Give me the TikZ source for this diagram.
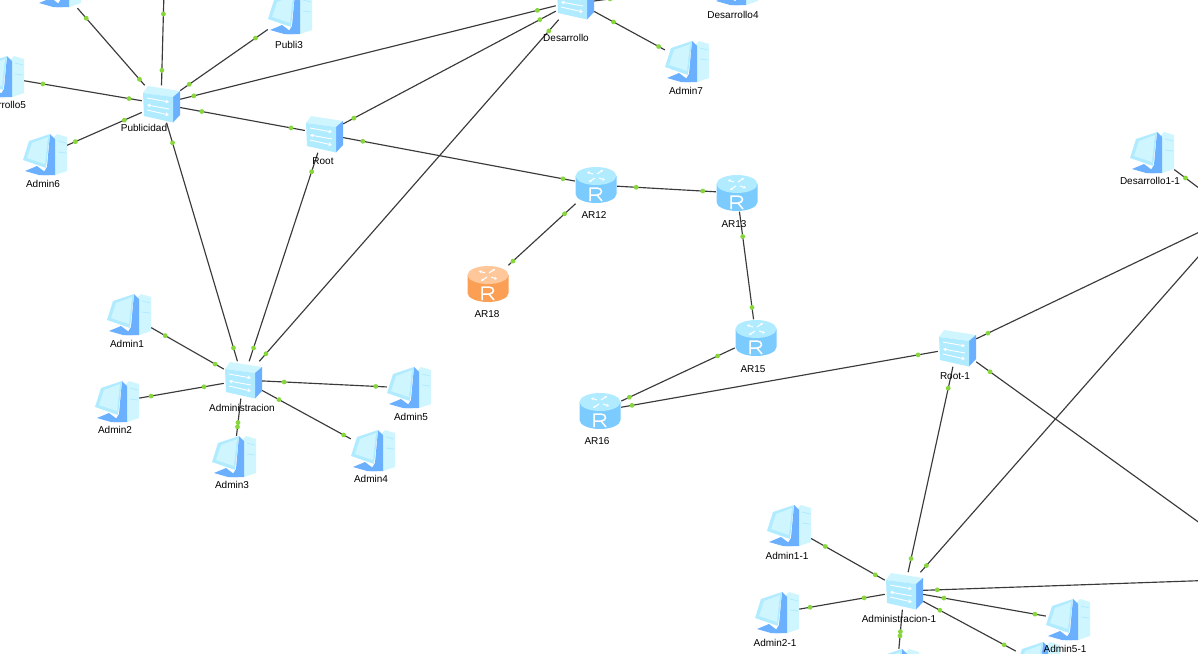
\documentclass[tikz,border=0pt]{standalone}
\usepackage{fontspec}
\usepackage{xcolor}
\usetikzlibrary{arrows.meta,decorations.markings}
\setmainfont{Liberation Sans}
\definecolor{linkgreen}{HTML}{86D63C}
\definecolor{linkgray}{HTML}{3A3A3A}
\definecolor{iconpale}{HTML}{CFF5FF}
\definecolor{iconlight}{HTML}{B0EBFF}
\definecolor{iconmid}{HTML}{7CCBFF}
\definecolor{icondeep}{HTML}{6AB0FF}
\definecolor{routerpale}{HTML}{FFC79A}
\definecolor{routermid}{HTML}{FB9F55}
\tikzset{
    pics/pc-icon/.style = {code = {
        \fill[iconpale] (8,-17) -- (12,-21) -- (22,-18) -- (22,16) -- (10,20) -- cycle;
        \draw[iconlight, line width=0.8pt] (13,-14) -- (21,-12) (13,-3) -- (21,-2);
        \fill[icondeep] (5,-21) -- (10,-16) -- (10,20) -- (-3,20) -- (2,12) -- cycle;
        \fill[icondeep] (-20,16) -- (-8,11) -- (4,20) -- (-6,20) -- cycle;
        \fill[iconlight] (5,-21) -- (-16,-14) -- (-22,5) -- (1,13) -- cycle;
        \fill[iconpale] (3,-18) -- (-13,-12) -- (-18,3) -- (0,9) -- cycle;
    }},
    pics/switch-icon/.style = {code = {
        \fill[iconpale] (-18,-11) -- (-13,-18) -- (19,-13) -- (12,-7) -- cycle;
        \fill[icondeep] (12,-7) -- (19,-13) -- (19,11) -- (12,18.5) -- cycle;
        \fill[iconlight] (-18,-11) -- (12,-7) -- (12,18.5) -- (-17,12) -- cycle;
        \draw[switch-arrow] (-14,-6) -- (8,-2);
        \draw[switch-arrow] (8,5) -- (-14,1);
        \draw[switch-arrow] (-14,6) -- (8,11);
    }},
    pics/router-icon/.style 2 args = {code = {
        \fill[#2] (-20.5,-9) -- (-20.5,9) arc[start angle=180, end angle=0, x radius=20.5, y radius=9] -- (20.5,-9) -- cycle;
        \fill[#1] (0,-9) ellipse[x radius=20.5, y radius=9];
        \draw[router-arrow] (1,-11) -- (7,-15);
        \draw[router-arrow] (-1,-7) -- (-7,-3);
        \draw[router-arrow] (-3,-11) -- (-9,-13);
        \draw[router-arrow] (3,-7) -- (9,-5);
        \draw[white, line width=1.5pt] (-6,16) -- (-6,3) -- (1,3) .. controls (7,3) and (7,10) .. (1,10) -- (-6,10) (1,10) -- (6,16);
    }},
    switch-arrow/.style = {white, line width=0.9pt, -{Stealth[length=3.5pt, width=4pt]}},
    router-arrow/.style = {white, line width=1pt, -{Stealth[length=2.5pt, width=3pt]}},
    pc-box/.style = {rectangle, inner sep=0pt, minimum width=44pt, minimum height=42pt,
        path picture = {\pic at (path picture bounding box.center) {pc-icon};}},
    switch-box/.style = {rectangle, inner sep=0pt, minimum width=38pt, minimum height=37pt,
        path picture = {\pic at (path picture bounding box.center) {switch-icon};}},
    router-box/.style 2 args = {rectangle, inner sep=0pt, minimum width=42pt, minimum height=37pt,
        path picture = {\pic at (path picture bounding box.center) {router-icon={#1}{#2}};}},
    blue-router/.style = {router-box={iconlight}{iconmid}},
    orange-router/.style = {router-box={routerpale}{routermid}},
    device-label/.style = {inner sep=0pt, font=\fontsize{10}{12}\selectfont, text=black},
    link/.style 2 args = {draw=linkgray, line width=1.15pt, postaction={decorate, decoration={markings,
        mark=at position #1pt with {\fill[linkgreen] (0,0) circle (2.4pt);},
        mark=at position -#2pt with {\fill[linkgreen] (0,0) circle (2.4pt);}}}},
}

\begin{document}
\begin{tikzpicture}[x=1pt, y=-1pt]
\clip[use as bounding box] (0,0) rectangle (1198,653);

% left site
\node[pc-box] (admin-top) at (59,-13) {};
\coordinate (publi-up) at (164,-8);
\node[pc-box] (publi3) at (290,14) {};
\node[pc-box] (desarrollo5) at (2,77) {};
\node[pc-box] (admin6) at (45,155) {};
\node[switch-box] (publicidad) at (161,104) {};
\node[switch-box] (root) at (324,134) {};
\node[switch-box] (desarrollo) at (575,1) {};
\node[pc-box] (desarrollo4) at (736,-15) {};
\node[pc-box] (admin7) at (687,62) {};
\node[switch-box] (administracion) at (243,380) {};
\node[pc-box] (admin1) at (129,315) {};
\node[pc-box] (admin2) at (117,402) {};
\node[pc-box] (admin3) at (234,457) {};
\node[pc-box] (admin4) at (373,451) {};
\node[pc-box] (admin5) at (409,388) {};

% routers
\node[blue-router] (ar12) at (596,185) {};
\node[blue-router] (ar13) at (737,193) {};
\node[blue-router] (ar15) at (756,338) {};
\node[blue-router] (ar16) at (600,411) {};
\node[orange-router] (ar18) at (488,284) {};

% right site
\node[switch-box] (root-1) at (957,348) {};
\node[pc-box] (desarrollo1-1) at (1152,153) {};
\coordinate (desarrollo-1) at (1235,215);
\coordinate (publicidad-1) at (1276,578);
\node[switch-box] (administracion-1) at (904,591) {};
\node[pc-box] (admin1-1) at (789,526) {};
\node[pc-box] (admin2-1) at (777,613) {};
\node[pc-box] (admin3-1) at (897,670) {};
\node[pc-box] (admin4-1) at (1038,663) {};
\node[pc-box] (admin5-1) at (1068,620) {};

\draw[link={8}{13}] (publicidad) -- (admin-top);
\draw[link={15}{22}] (publicidad) -- (publi-up);
\draw[link={11}{15}] (publicidad) -- (publi3);
\draw[link={13}{19}] (publicidad) -- (desarrollo5);
\draw[link={19}{9}] (publicidad) -- (admin6);
\draw[link={22}{14}] (publicidad) -- (root);
\draw[link={14}{19}] (publicidad) -- (desarrollo);
\draw[link={21}{14}] (publicidad) -- (administracion);
\draw[link={12}{18}] (root) -- (desarrollo);
\draw[link={20}{14}] (root) -- (administracion);
\draw[link={20}{12}] (root) -- (ar12);
\draw[link={15}{10}] (desarrollo) -- (administracion);
\draw[link={16}{20}] (desarrollo.east) -- (desarrollo4.west);
\draw[link={22}{7}] (desarrollo) -- (admin7);
\draw[link={10}{16}] (administracion) -- (admin1);
\draw[link={20}{12}] (administracion) -- (admin2);
\draw[link={24}{9}] (administracion) -- (admin3);
\draw[link={19}{8}] (administracion) -- (admin4);
\draw[link={22}{11}] (administracion) -- (admin5);
\draw[link={19}{13}] (ar12) -- (ar13);
\draw[link={15}{6}] (ar12) -- (ar18);
\draw[link={25}{12}] (ar13) -- (ar15);
\draw[link={19}{9}] (ar15) -- (ar16);
\draw[link={11}{20}] (ar16) -- (root-1);
\draw[link={13}{20}] (root-1) -- (desarrollo-1);
\draw[link={17}{20}] (root-1) -- (publicidad-1);
\draw[link={22}{14}] (root-1) -- (administracion-1);
\draw[link={14}{20}] (desarrollo1-1) -- (desarrollo-1);
\draw[link={9}{20}] (administracion-1) -- (desarrollo-1);
\draw[link={14}{20}] (administracion-1) -- (publicidad-1);
\draw[link={11}{16}] (administracion-1) -- (admin1-1);
\draw[link={21}{11}] (administracion-1) -- (admin2-1);
\draw[link={22}{13}] (administracion-1) -- (admin3-1);
\draw[link={19}{13}] (administracion-1) -- (admin4-1);
\draw[link={21}{11}] (administracion-1) -- (admin5-1);

\node[device-label] (publi3-text) at (289,45) {Publi3};
\node[device-label] (desarrollo5-text) at (0.5,105) {Desarrollo5};
\node[device-label] (admin6-text) at (43,184) {Admin6};
\node[device-label] (publicidad-text) at (144,128) {Publicidad};
\node[device-label] (root-text) at (323,161) {Root};
\node[device-label] (desarrollo-text) at (566,38) {Desarrollo};
\node[device-label] (desarrollo4-text) at (733,15) {Desarrollo4};
\node[device-label] (admin7-text) at (686,91) {Admin7};
\node[device-label] (administracion-text) at (242,408) {Administracion};
\node[device-label] (admin1-text) at (127,344) {Admin1};
\node[device-label] (admin2-text) at (115,430) {Admin2};
\node[device-label] (admin3-text) at (232,485) {Admin3};
\node[device-label] (admin4-text) at (371,479) {Admin4};
\node[device-label] (admin5-text) at (411,417) {Admin5};
\node[device-label] (ar12-text) at (594,215) {AR12};
\node[device-label] (ar13-text) at (734,224) {AR13};
\node[device-label] (ar15-text) at (753,369) {AR15};
\node[device-label] (ar16-text) at (597,441) {AR16};
\node[device-label] (ar18-text) at (487,314) {AR18};
\node[device-label] (root-1-text) at (955,376) {Root-1};
\node[device-label] (desarrollo1-1-text) at (1150,181) {Desarrollo1-1};
\node[device-label] (administracion-1-text) at (899,619) {Administracion-1};
\node[device-label] (admin1-1-text) at (787,556) {Admin1-1};
\node[device-label] (admin2-1-text) at (775,643) {Admin2-1};
\node[device-label] (admin5-1-text) at (1065,649) {Admin5-1};
\end{tikzpicture}
\end{document}
